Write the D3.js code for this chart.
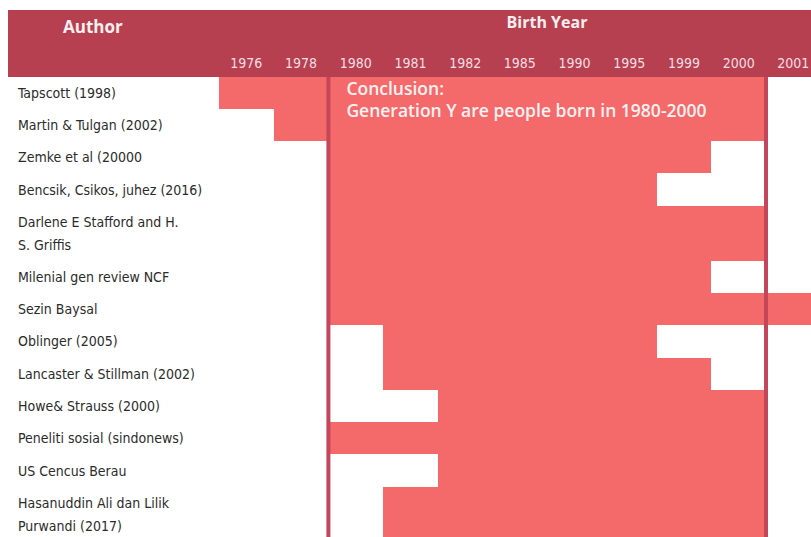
<!DOCTYPE html>
<meta charset="utf-8">
<style>
    body { margin: 0; background: #fff; }
    .lbl { font-family: "Liberation Sans Narrow", "DejaVu Sans Condensed", "Roboto", sans-serif; font-size: 14px; fill: #2b2b2b; }
    .year { font-family: "Liberation Sans Narrow", "DejaVu Sans Condensed", sans-serif; font-size: 14px; fill: #f6dde2; }
    .head { font-family: "Open Sans", sans-serif; font-weight: 700; font-size: 16px; fill: #fbeef0; }
    .concl { font-family: "Open Sans", sans-serif; font-weight: 600; font-size: 17.5px; fill: #fff2f2; }
</style>
<svg width="811" height="537"></svg>
<script src="https://d3js.org/d3.v7.min.js"></script>
<script>

    // column categories (birth years)
    var years = ["1976", "1978", "1980", "1981", "1982", "1985", "1990", "1995", "1999", "2000", "2001"];

    // authors, one per row (lines split with |)
    var authors = [
        "Tapscott (1998)",
        "Martin & Tulgan (2002)",
        "Zemke et al (20000",
        "Bencsik, Csikos, juhez (2016)",
        "Darlene E Stafford and H.|S. Griffis",
        "Milenial gen review NCF",
        "Sezin Baysal",
        "Oblinger (2005)",
        "Lancaster & Stillman (2002)",
        "Howe& Strauss (2000)",
        "Peneliti sosial (sindonews)",
        "US Cencus Berau",
        "Hasanuddin Ali dan Lilik|Purwandi (2017)"
    ];

    // first and last birth-year column covered by each author
    var startYear = ["1976", "1978", "1980", "1980", "1980", "1980", "1980", "1981", "1981", "1982", "1980", "1982", "1981"];
    var endYear   = ["2000", "2000", "1999", "1995", "2000", "1999", "2001", "1995", "1999", "2000", "2000", "2000", "2000"];

    // conclusion range
    var conclusion = ["1980", "2000"];
    var conclusionText = ["Conclusion:", "Generation Y are people born in 1980-2000"];

    var svg = d3.select("svg"),
        width = +svg.attr("width"),
        height = +svg.attr("height");

    var fillColor = "#f46a6a",
        headColor = "#b6404f",
        lineColor = "#c3465a";

    var headTop = 10, headBottom = 77;

    var x = d3.scaleBand()
        .domain(years)
        .range([219, 219 + 54.7 * years.length])
        .padding(0);

    // row heights: two-line rows are taller
    var unit = d3.scaleLinear().domain([0, 1]).range([76.5, 76.5 + 32.3]);
    var rows = [], acc = 0;
    authors.forEach(function (a, i) {
        var lines = a.split("|");
        var h = lines.length > 1 ? 1.7 : 1;
        rows.push({ name: a, lines: lines, y0: unit(acc), y1: unit(acc + h), start: startYear[i], end: endYear[i] });
        acc += h;
    });

    // header band
    svg.append("rect")
        .attr("x", 8).attr("y", headTop)
        .attr("width", width - 8).attr("height", headBottom - headTop)
        .attr("fill", headColor);

    svg.append("text").attr("class", "head")
        .attr("x", 63).attr("y", 33)
        .style("font-size", "17px")
        .text("Author");

    svg.append("text").attr("class", "head")
        .attr("x", 547).attr("y", 28)
        .attr("text-anchor", "middle")
        .text("Birth Year");

    svg.append("g").selectAll("text")
        .data(years)
        .join("text")
        .attr("class", "year")
        .attr("x", function (d) { return x(d) + x.bandwidth() / 2; })
        .attr("y", 68)
        .attr("text-anchor", "middle")
        .text(function (d) { return d; });

    // range bars
    svg.append("g").selectAll("rect")
        .data(rows)
        .join("rect")
        .attr("x", function (d) { return x(d.start); })
        .attr("y", function (d) { return d.y0; })
        .attr("width", function (d) { return x(d.end) + x.bandwidth() - x(d.start); })
        .attr("height", function (d) { return d.y1 - d.y0; })
        .attr("fill", fillColor)
        .attr("shape-rendering", "crispEdges");

    // author labels
    var lbl = svg.append("g").selectAll("text")
        .data(rows)
        .join("text")
        .attr("class", "lbl")
        .attr("x", 18)
        .attr("y", function (d) {
            var mid = (d.y0 + d.y1) / 2;
            return mid - (d.lines.length - 1) * 11.5 + 5;
        });
    lbl.selectAll("tspan")
        .data(function (d) { return d.lines; })
        .join("tspan")
        .attr("x", 18)
        .attr("dy", function (d, i) { return i ? 23 : 0; })
        .text(function (d) { return d; });

    // conclusion boundaries
    var bottom = height;
    svg.append("g").selectAll("line")
        .data([x(conclusion[0]), x(conclusion[1]) + x.bandwidth()])
        .join("line")
        .attr("x1", function (d) { return d; })
        .attr("x2", function (d) { return d; })
        .attr("y1", headBottom)
        .attr("y2", bottom)
        .attr("stroke", lineColor)
        .attr("stroke-width", 4);

    svg.append("g").selectAll("text")
        .data(conclusionText)
        .join("text")
        .attr("class", "concl")
        .attr("x", x(conclusion[0]) + 18)
        .attr("y", function (d, i) { return 95 + i * 22; })
        .text(function (d) { return d; });

</script>
